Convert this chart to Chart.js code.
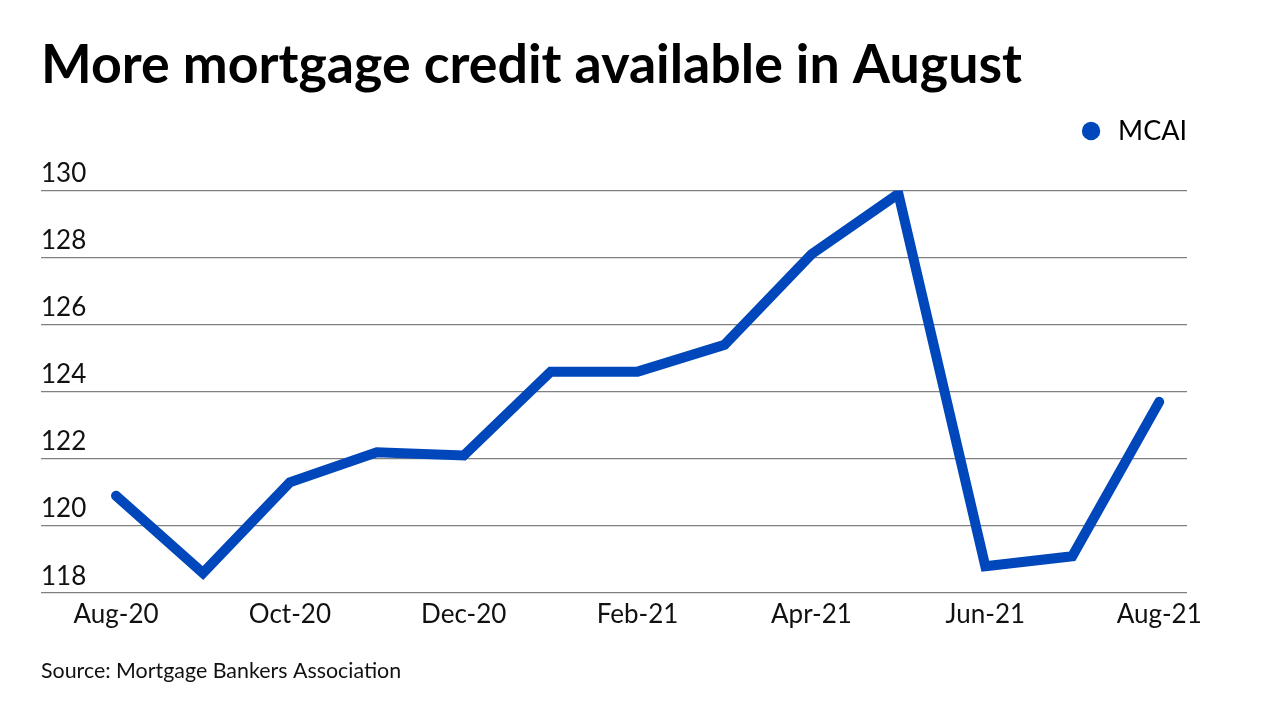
<!DOCTYPE html>
<html>
<head>
<meta charset="utf-8">
<script src="https://cdn.jsdelivr.net/npm/chart.js@4/dist/chart.umd.min.js"></script>
<style>
  html, body { margin: 0; padding: 0; background: #fff; }
  #wrap { width: 1280px; height: 720px; }
</style>
</head>
<body>
<div id="wrap"><canvas id="mcaiChart" width="1280" height="720"></canvas></div>
<script>
const months = ['Aug-20', 'Sep-20', 'Oct-20', 'Nov-20', 'Dec-20', 'Jan-21', 'Feb-21',
                'Mar-21', 'Apr-21', 'May-21', 'Jun-21', 'Jul-21', 'Aug-21'];
const mcai = [120.9, 118.6, 121.3, 122.2, 122.1, 124.6, 124.6,
              125.4, 128.1, 129.9, 118.8, 119.1, 123.7];
const yTicks = [118, 120, 122, 124, 126, 128, 130];

const BLUE = '#0047bb';
const FONT = 'Lato, "Noto Sans", sans-serif';

// extra room between the legend and the plot
const legendGap = {
    id: 'legendGap',
    beforeInit(chart) {
        const fit = chart.legend.fit;
        chart.legend.fit = function () {
            fit.bind(chart.legend)();
            this.height += 36;
        };
    }
};

const ctx = document.getElementById('mcaiChart');
new Chart(ctx, {
    type: 'line',
    data: {
        datasets: [{
            label: 'MCAI',
            data: mcai.map((v, i) => ({ x: i, y: v })),
            borderColor: BLUE,
            backgroundColor: BLUE,
            borderWidth: 10,
            borderCapStyle: 'round',
            borderJoinStyle: 'miter',
            pointRadius: 0,
            pointHoverRadius: 0,
            tension: 0
        }]
    },
    options: {
        responsive: false,
        animation: false,
        layout: {
            padding: { left: 41, right: 93, top: 10, bottom: 36 }
        },
        plugins: {
            title: {
                display: true,
                text: 'More mortgage credit available in August',
                align: 'start',
                color: '#000',
                font: { family: FONT, size: 53.7, weight: 'bold' },
                padding: { top: 23, bottom: 20 }
            },
            subtitle: {
                display: true,
                position: 'bottom',
                text: 'Source: Mortgage Bankers Association',
                align: 'start',
                color: '#111',
                font: { family: FONT, size: 21.4 },
                padding: { top: 22, bottom: 0 }
            },
            legend: {
                display: true,
                position: 'top',
                align: 'end',
                labels: {
                    usePointStyle: true,
                    pointStyle: 'circle',
                    boxHeight: 13,
                    color: '#000',
                    font: { family: FONT, size: 27 },
                    padding: 0,
                    generateLabels: (chart) => {
                        const items = Chart.defaults.plugins.legend.labels.generateLabels(chart);
                        items.forEach(item => {
                            item.lineWidth = 0;
                            item.fillStyle = BLUE;
                            item.strokeStyle = BLUE;
                        });
                        return items;
                    }
                }
            },
            tooltip: { enabled: false }
        },
        scales: {
            x: {
                type: 'linear',
                min: -0.863,
                max: 12.32,
                grid: { display: false, drawTicks: false },
                border: { display: false },
                afterBuildTicks: (scale) => {
                    scale.ticks = months
                        .map((m, i) => ({ value: i }))
                        .filter(t => t.value % 2 === 0);
                },
                ticks: {
                    autoSkip: false,
                    maxRotation: 0,
                    padding: 6,
                    color: '#111',
                    font: { family: FONT, size: 26 },
                    callback: (value) => months[value]
                }
            },
            y: {
                min: 118,
                max: 130,
                afterBuildTicks: (scale) => {
                    scale.ticks = yTicks.map(v => ({ value: v }));
                },
                grid: {
                    color: '#808080',
                    lineWidth: 1.3,
                    drawTicks: false
                },
                border: { display: false },
                ticks: {
                    mirror: true,
                    padding: 0,
                    labelOffset: -17,
                    color: '#111',
                    font: { family: FONT, size: 26 }
                }
            }
        }
    },
    plugins: [legendGap]
});
</script>
</body>
</html>
